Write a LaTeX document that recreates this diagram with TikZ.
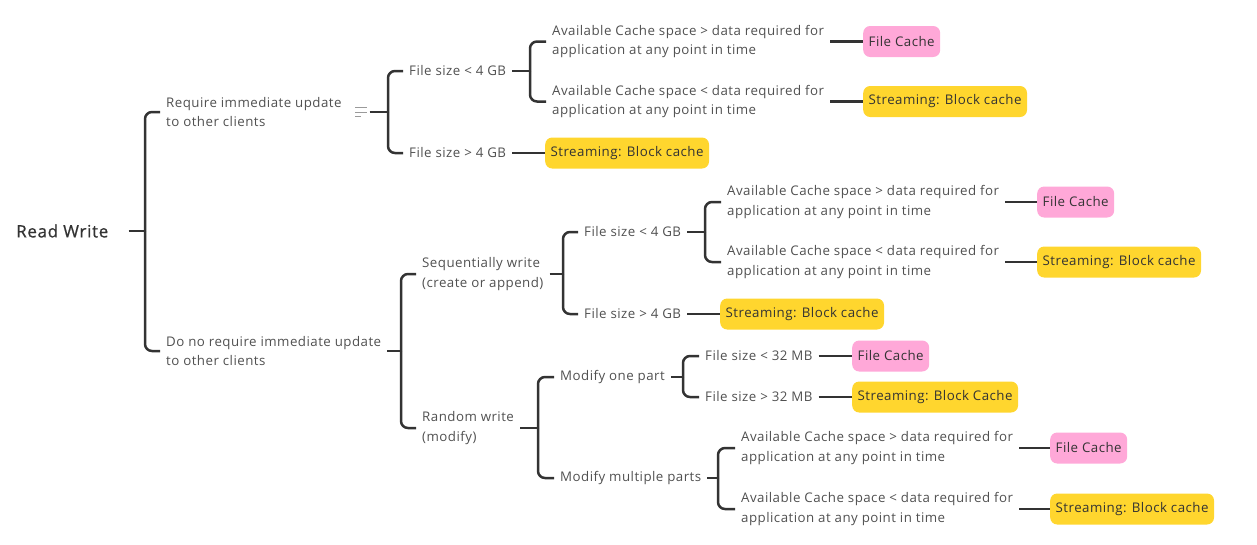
\documentclass[tikz,border=0pt]{standalone}
\usepackage{fontspec}
\setmainfont{Open Sans}[LetterSpace=3.5]
\newfontfamily\rootfont{Open Sans}[LetterSpace=4,FakeBold=0.8]
\definecolor{linkgray}{HTML}{333333}
\definecolor{txtgray}{HTML}{505050}
\definecolor{notegray}{HTML}{9A9A9A}
\definecolor{fcpink}{RGB}{255,168,216}
\definecolor{sbyellow}{RGB}{255,214,46}
\begin{document}
\begin{tikzpicture}[x=1pt,y=-1pt,
    txt/.style={anchor=west, inner xsep=6pt, inner ysep=1pt, align=left, text=txtgray,
      font=\fontsize{13.3}{19.5}\selectfont},
    link/.style={draw=linkgray, line width=2.5pt},
    arm/.style={link, rounded corners=7pt},
    leaf/.style={anchor=west, rounded corners=7pt, inner xsep=5.5pt, minimum height=31pt,
      text=black!80, font=\fontsize{13.3}{15}\selectfont},
    filecache/.style={leaf, fill=fcpink},
    blockcache/.style={leaf, fill=sbyellow}]
    \useasboundingbox (0,0) rectangle (1257,544);
    % Raiz
    \node[anchor=west, inner sep=0pt, text=linkgray, font=\rootfont\fontsize{17}{20}\selectfont] (rw) at (16,231) {Read Write};
    \coordinate (j0) at (145,231);
    \draw[link, shorten <=20pt] (rw.east) -- (j0);
    \node[txt] (req) at (160,112) {Require immediate update\\to other clients};
    \node[txt] (noreq) at (160,351) {Do no require immediate update\\to other clients};
    \draw[arm] (j0) |- (req.west);
    \draw[arm] (j0) |- (noreq.west);
    % Actualizacion inmediata
    \node[minimum width=11pt, minimum height=8pt, inner sep=0pt] (note) at (361,112) {};
    \draw[notegray, line width=0.9pt] (note.north west) -- (note.north east);
    \draw[notegray, line width=0.9pt] (note.west) -- (note.east);
    \draw[notegray, line width=0.9pt] (note.south west) -- ++(6,0);
    \coordinate (j1) at (388,112);
    \draw[link, shorten <=3pt] (note.east) -- (j1);
    \node[txt] (fs1) at (403,71) {File size < 4 GB};
    \node[txt] (fs2) at (403,153) {File size > 4 GB};
    \draw[arm] (j1) |- (fs1.west);
    \draw[arm] (j1) |- (fs2.west);
    \coordinate (j2) at (530,71);
    \draw[link] (fs1.east) -- (j2);
    \node[txt] (a1) at (546,41.5) {Available Cache space > data required for\\application at any point in time};
    \node[txt] (a2) at (546,101.5) {Available Cache space < data required for\\application at any point in time};
    \draw[arm] (j2) |- (a1.west);
    \draw[arm] (j2) |- (a2.west);
    \node[filecache] (fc1) at (863,41.5) {File Cache};
    \node[blockcache] (sb1) at (863,101.5) {Streaming: Block cache};
    \draw[link] (a1.east) -- (fc1.west);
    \draw[link] (a2.east) -- (sb1.west);
    \node[blockcache] (sb2) at (545,153) {Streaming: Block cache};
    \draw[link] (fs2.east) -- (sb2.west);
    % Sin actualizacion inmediata
    \coordinate (j3) at (401,351);
    \draw[link] (noreq.east) -- (j3);
    \node[txt] (seq) at (416,274) {Sequentially write\\(create or append)};
    \node[txt] (rnd) at (416,428) {Random write\\(modify)};
    \draw[arm] (j3) |- (seq.west);
    \draw[arm] (j3) |- (rnd.west);
    % Escritura secuencial
    \coordinate (j4) at (563,274);
    \draw[link] (seq.east) -- (j4);
    \node[txt] (fs3) at (578,232) {File size < 4 GB};
    \node[txt] (fs4) at (578,314) {File size > 4 GB};
    \draw[arm] (j4) |- (fs3.west);
    \draw[arm] (j4) |- (fs4.west);
    \coordinate (j5) at (705,232);
    \draw[link] (fs3.east) -- (j5);
    \node[txt] (a3) at (721,202) {Available Cache space > data required for\\application at any point in time};
    \node[txt] (a4) at (721,262) {Available Cache space < data required for\\application at any point in time};
    \draw[arm] (j5) |- (a3.west);
    \draw[arm] (j5) |- (a4.west);
    \node[filecache] (fc2) at (1037,202) {File Cache};
    \node[blockcache] (sb3) at (1037,262) {Streaming: Block cache};
    \draw[link] (a3.east) -- (fc2.west);
    \draw[link] (a4.east) -- (sb3.west);
    \node[blockcache] (sb4) at (720,314) {Streaming: Block cache};
    \draw[link] (fs4.east) -- (sb4.west);
    % Escritura aleatoria
    \coordinate (j6) at (538,428);
    \draw[link] (rnd.east) -- (j6);
    \node[txt] (one) at (554,377) {Modify one part};
    \node[txt] (mult) at (554,478) {Modify multiple parts};
    \draw[arm] (j6) |- (one.west);
    \draw[arm] (j6) |- (mult.west);
    \coordinate (j7) at (683,377);
    \draw[link] (one.east) -- (j7);
    \node[txt] (fs5) at (699,356) {File size < 32 MB};
    \node[txt] (fs6) at (699,397) {File size > 32 MB};
    \draw[arm] (j7) |- (fs5.west);
    \draw[arm] (j7) |- (fs6.west);
    \node[filecache] (fc3) at (852,356) {File Cache};
    \node[blockcache] (sb5) at (852,397) {Streaming: Block Cache};
    \draw[link] (fs5.east) -- (fc3.west);
    \draw[link] (fs6.east) -- (sb5.west);
    \coordinate (j8) at (718,478);
    \draw[link] (mult.east) -- (j8);
    \node[txt] (a5) at (735,448) {Available Cache space > data required for\\application at any point in time};
    \node[txt] (a6) at (735,509) {Available Cache space < data required for\\application at any point in time};
    \draw[arm] (j8) |- (a5.west);
    \draw[arm] (j8) |- (a6.west);
    \node[filecache] (fc4) at (1050,448) {File Cache};
    \node[blockcache] (sb6) at (1050,509) {Streaming: Block cache};
    \draw[link] (a5.east) -- (fc4.west);
    \draw[link] (a6.east) -- (sb6.west);
\end{tikzpicture}
\end{document}
